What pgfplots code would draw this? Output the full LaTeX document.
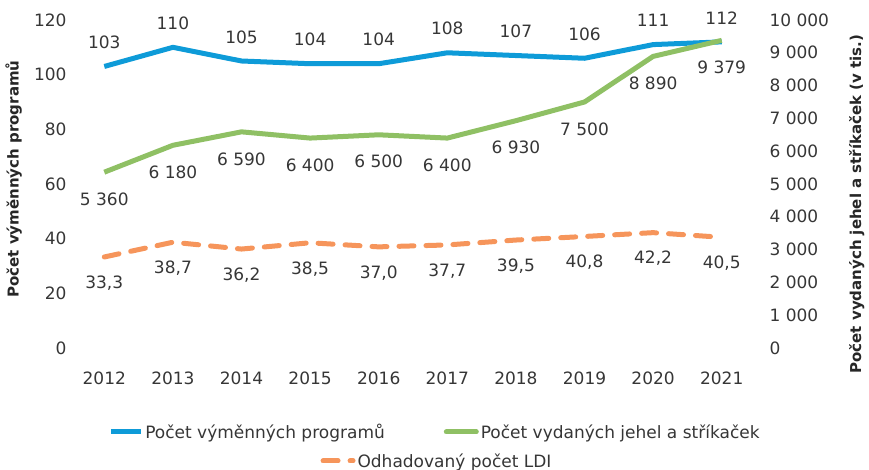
\documentclass[border=0pt]{standalone}
\usepackage{pgfplots}
\pgfplotsset{compat=1.18}
\usepackage{fontspec}
\setmainfont{DejaVu Sans}
\definecolor{cblue}{HTML}{0E9BD8}
\definecolor{cgreen}{HTML}{8FC064}
\definecolor{corange}{HTML}{F6955B}
\definecolor{txt}{HTML}{363636}
\tikzset{ttl/.style={font=\fontsize{15}{18}\selectfont\bfseries, text=black!85}}
\begin{document}
\begin{tikzpicture}[font=\fontsize{17}{20}\selectfont, text=txt]
\path[use as bounding box] (0,0) rectangle (869pt,470pt);
\pgfplotsset{
  base/.style={
    at={(70pt,122pt)}, anchor=south west,
    width=686pt, height=328pt, scale only axis,
    xmin=-0.5, xmax=9.5,
    axis line style={draw=none},
    major tick length=0pt,
    /pgf/number format/assume math mode=true,
    tick label style={text=txt},
    legend style={draw=none, fill=none, text=txt,
      /tikz/every even column/.append style={column sep=57pt}},
    legend cell align=left,
    legend image code/.code={\draw[##1] (0pt,0pt) -- (30pt,0pt);},
  },
  lbl/.style={nodes near coords, point meta=explicit symbolic,
    every node near coord/.append style={anchor=center, text=txt, yshift=#1}},
}
\begin{axis}[base,
  ymin=0, ymax=120, ytick={0,20,...,120},
  xtick={0,...,9},
  xticklabels={2012,2013,2014,2015,2016,2017,2018,2019,2020,2021},
  xticklabel style={yshift=-20pt},
  ylabel={Počet výměnných programů},
  ylabel style={at={(axis description cs:-0.082,0.515)}, anchor=center, rotate=0, ttl},
  legend columns=2,
  legend style={at={(axis description cs:0.532,-0.256)}, anchor=center},
]
\addplot[cblue, line width=5pt, line join=round, lbl=24pt] coordinates {
  (0,103)[103] (1,110)[110] (2,105)[105] (3,104)[104] (4,104)[104]
  (5,108)[108] (6,107)[107] (7,106)[106] (8,111)[111] (9,112)[112]
};
\addlegendentry{Počet výměnných programů}
\addlegendimage{cgreen, line width=5pt, line cap=round}
\addlegendentry{Počet vydaných jehel a stříkaček}
\addplot[corange, line width=5pt, line cap=round, dash pattern=on 15pt off 12pt, lbl=-26pt, forget plot] coordinates {
  (0,33.3)[33,3] (1,38.7)[38,7] (2,36.2)[36,2] (3,38.5)[38,5] (4,37.0)[37,0]
  (5,37.7)[37,7] (6,39.5)[39,5] (7,40.8)[40,8] (8,42.2)[42,2] (9,40.5)[40,5]
};
\end{axis}
\begin{axis}[base,
  ymin=0, ymax=10000, ytick={0,1000,...,10000},
  scaled y ticks=false,
  yticklabels={0,1 000,2 000,3 000,4 000,5 000,6 000,7 000,8 000,9 000,10 000},
  yticklabel pos=right,
  yticklabel style={anchor=west, xshift=10pt},
  xtick=\empty,
  ylabel={Počet vydaných jehel a stříkaček (v tis.)},
  ylabel style={at={(axis description cs:1.147,0.439)}, anchor=center, rotate=0, ttl},
  legend style={at={(axis description cs:0.535,-0.3445)}, anchor=center},
]
\addplot[cgreen, line width=5pt, line join=round, lbl=-27pt, forget plot] coordinates {
  (0,5360)[5 360] (1,6180)[6 180] (2,6590)[6 590] (3,6400)[6 400] (4,6500)[6 500]
  (5,6400)[6 400] (6,6930)[6 930] (7,7500)[7 500] (8,8890)[8 890] (9,9379)[9 379]
};
\addlegendimage{corange, line width=5pt, line cap=round, dash pattern=on 15pt off 12pt}
\addlegendentry{Odhadovaný počet LDI}
\end{axis}
\end{tikzpicture}
\end{document}
